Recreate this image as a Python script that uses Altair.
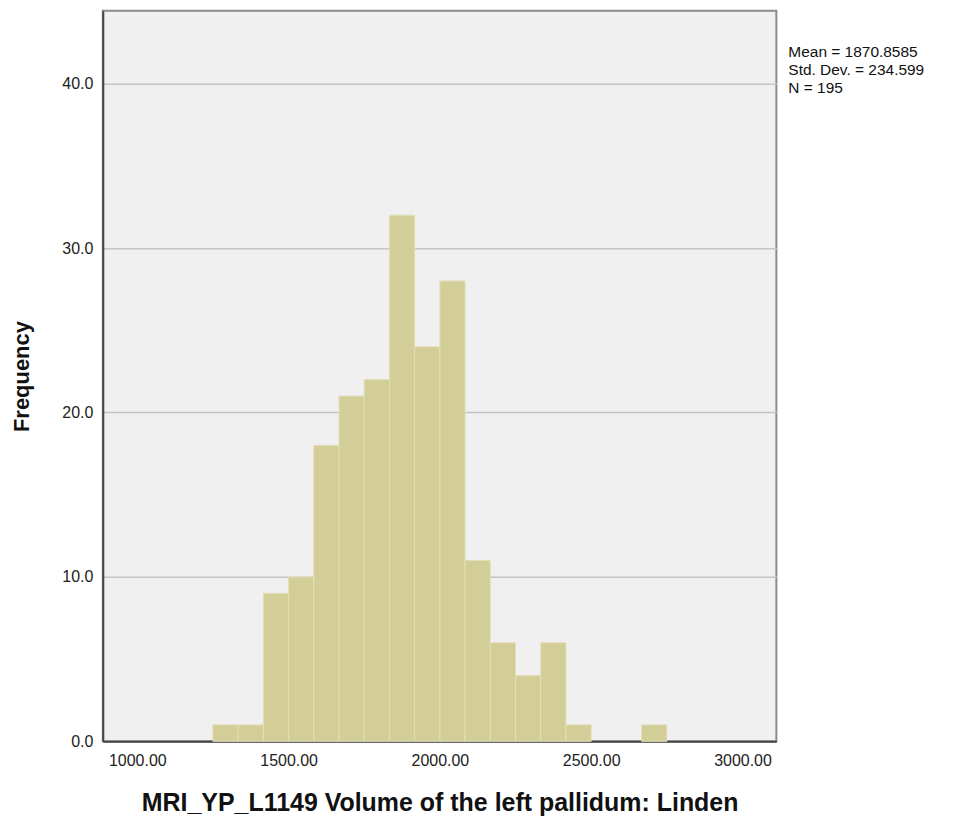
import altair as alt
import pandas as pd

# Histogram counts per bin
counts = [1, 1, 9, 10, 18, 21, 22, 32, 24, 28, 11, 6, 4, 6, 1, 0, 0, 1]
bin_origin = 1250.0
bin_width = 250.0 / 3.0
x_ticks = [1000, 1500, 2000, 2500, 3000]
y_ticks = [0, 10, 20, 30, 40]
stats_lines = ["Mean = 1870.8585", "Std. Dev. = 234.599", "N = 195"]
x_title = "MRI_YP_L1149 Volume of the left pallidum: Linden"
y_title = "Frequency"

rows = []
for i, c in enumerate(counts):
    if c > 0:
        start = bin_origin + i * bin_width
        rows.append({"start": start, "end": start + bin_width, "count": c})
df = pd.DataFrame(rows)

FONT = "Liberation Sans"

bars = alt.Chart(df).mark_bar(
    color="#d3ce97", stroke="#e2dfb8", strokeWidth=1
).encode(
    x=alt.X("start:Q",
            scale=alt.Scale(domain=[886, 3112], nice=False, zero=False),
            axis=alt.Axis(values=x_ticks, format=".2f", title=x_title,
                          grid=False, ticks=False, labelPadding=11,
                          titlePadding=22, titleFontSize=25,
                          domainColor="#444444", domainWidth=2)),
    x2="end:Q",
    y=alt.Y("count:Q",
            scale=alt.Scale(domain=[0, 44.43], nice=False),
            axis=alt.Axis(values=y_ticks, format=".1f", title=y_title,
                          grid=True, gridColor="#c4c4c4", gridWidth=1.5,
                          ticks=False, labelPadding=10, titlePadding=28,
                          titleFontSize=22,
                          domainColor="#444444", domainWidth=2)),
    y2=alt.datum(0),
)

stats = alt.Chart(pd.DataFrame({"t": [0]})).mark_text(
    align="left", baseline="top", font=FONT, fontSize=15.5, color="#111111",
    lineHeight=18
).encode(
    x=alt.value(687),
    y=alt.value(34),
    text=alt.value(stats_lines),
)

chart = alt.layer(bars, stats).properties(
    width=675, height=732,
    autosize=alt.AutoSizeParams(type="none"),
    padding={"left": 95, "top": 2, "right": 170, "bottom": 85},
    background="white",
).configure_view(
    fill="#f0f0f0", stroke="#8c8c8c", strokeWidth=2
).configure_axis(
    labelFont=FONT, labelFontSize=16, labelColor="#222222",
    titleFont=FONT, titleFontWeight="bold",
    titleColor="#111111",
)

chart.save("out.html", embed_options={"renderer": "svg", "actions": False})
